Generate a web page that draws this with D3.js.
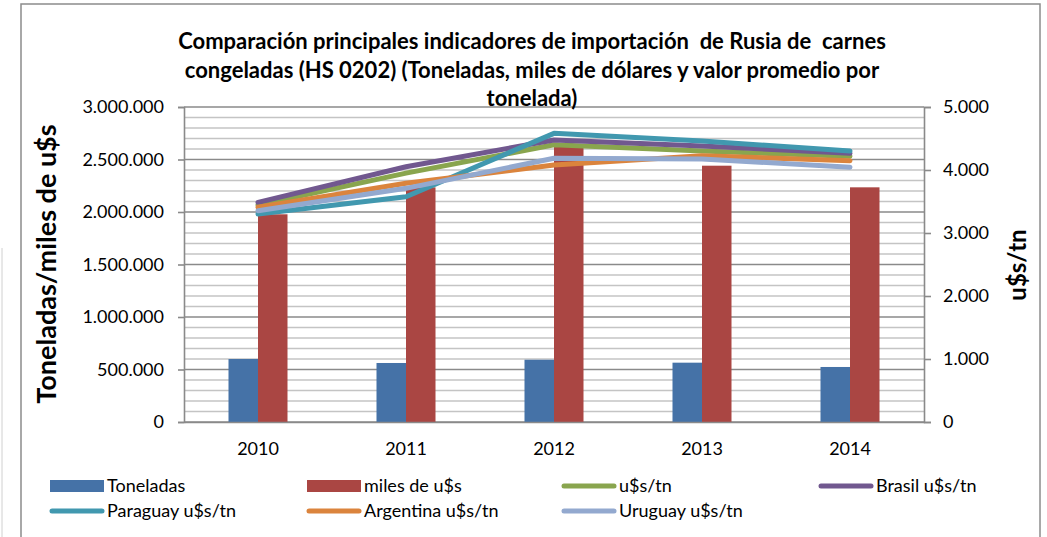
<!DOCTYPE html>
<html>
<head>
<meta charset="utf-8">
<script src="https://cdn.jsdelivr.net/npm/d3@7"></script>
<style>
  body { margin: 0; background: #fff; }
  text { font-family: Lato, "Liberation Sans", sans-serif; fill: #000; }
</style>
</head>
<body>
<div id="chart"></div>
<script>
// data
var years = ["2010", "2011", "2012", "2013", "2014"];
var toneladas = [600000, 562000, 593000, 565000, 524000];
var milesUSD = [1978000, 2235000, 2625000, 2441000, 2235000];
var usdTn = [3445, 3950, 4400, 4300, 4220];
var brasil = [3487, 4052, 4476, 4381, 4265];
var paraguay = [3302, 3576, 4582, 4460, 4302];
var argentina = [3408, 3789, 4079, 4227, 4148];
var uruguay = [3354, 3709, 4186, 4175, 4045];
var leftTicks = [0, 500000, 1000000, 1500000, 2000000, 2500000, 3000000];
var rightTicks = [0, 1000, 2000, 3000, 4000, 5000];

var barSeries = [
  {name: "Toneladas", values: toneladas, color: "#4572A7"},
  {name: "miles de u$s", values: milesUSD, color: "#AA4643"}
];
var lineSeries = [
  {name: "u$s/tn", values: usdTn, color: "#89A54E"},
  {name: "Brasil u$s/tn", values: brasil, color: "#71588F"},
  {name: "Paraguay u$s/tn", values: paraguay, color: "#4198AF"},
  {name: "Argentina u$s/tn", values: argentina, color: "#DB843D"},
  {name: "Uruguay u$s/tn", values: uruguay, color: "#93A9CF"}
];

var W = 1047, H = 537;
var plot = {left: 184, right: 924, top: 107, bottom: 422};

var svg = d3.select("#chart")
  .append("svg")
    .attr("width", W)
    .attr("height", H);

// outer frame
svg.append("line").attr("x1", 2).attr("x2", 2).attr("y1", 248).attr("y2", H)
  .attr("stroke", "#d0d0d0").attr("stroke-width", 1);
svg.append("rect")
  .attr("x", 21).attr("y", 4).attr("width", 1019).attr("height", 560)
  .attr("fill", "#fff").attr("stroke", "#8c8c8c").attr("stroke-width", 1.5);

var x = d3.scaleBand().domain(years).range([plot.left, plot.right]);
var xInner = d3.scaleBand().domain(barSeries.map(function(s) { return s.name; }))
  .range([44.5, 103.5]);
var yL = d3.scaleLinear().domain([0, 3000000]).range([plot.bottom, plot.top]);
var yR = d3.scaleLinear().domain([0, 5000]).range([plot.bottom, plot.top]);

var fmt = function(v) { return d3.format(",")(v).replace(/,/g, "."); };

// minor gridlines every 100.000
var minor = d3.range(0, 3000001, 100000).filter(function(v) { return v % 500000 !== 0; });
svg.append("g").selectAll("line").data(minor).enter().append("line")
  .attr("x1", plot.left).attr("x2", plot.right)
  .attr("y1", function(d) { return yL(d); }).attr("y2", function(d) { return yL(d); })
  .attr("stroke", "#c4c4c4").attr("stroke-width", 1.6);
// major gridlines
svg.append("g").selectAll("line").data(leftTicks).enter().append("line")
  .attr("x1", plot.left).attr("x2", plot.right)
  .attr("y1", function(d) { return yL(d); }).attr("y2", function(d) { return yL(d); })
  .attr("stroke", "#8a8a8a").attr("stroke-width", 1.6);

// bars
barSeries.forEach(function(s) {
  svg.append("g").selectAll("rect").data(s.values).enter().append("rect")
    .attr("x", function(d, i) { return x(years[i]) + xInner(s.name); })
    .attr("width", xInner.bandwidth())
    .attr("y", function(d) { return yL(d); })
    .attr("height", function(d) { return yL(0) - yL(d); })
    .attr("fill", s.color);
});

// left axis
var gl = svg.append("g").attr("transform", "translate(" + plot.left + ",0)")
  .call(d3.axisLeft(yL).tickValues(leftTicks).tickFormat(fmt).tickSize(6).tickPadding(14));
gl.select(".domain").attr("stroke", "#8a8a8a").attr("stroke-width", 1.6);
gl.selectAll(".tick line").attr("stroke", "#8a8a8a").attr("stroke-width", 1.6);
gl.selectAll("text").style("font-size", "18px").style("font-family", "Lato");

// right axis
var gr = svg.append("g").attr("transform", "translate(" + plot.right + ",0)")
  .call(d3.axisRight(yR).tickValues(rightTicks).tickFormat(fmt).tickSize(7).tickPadding(12));
gr.select(".domain").attr("stroke", "#8a8a8a").attr("stroke-width", 1.6);
gr.selectAll(".tick line").attr("stroke", "#8a8a8a").attr("stroke-width", 1.6);
gr.selectAll("text").style("font-size", "18px").style("font-family", "Lato");

// bottom axis
var gb = svg.append("g").attr("transform", "translate(0," + plot.bottom + ")")
  .call(d3.axisBottom(x).tickSize(0).tickPadding(20));
gb.select(".domain").attr("stroke", "#8a8a8a").attr("stroke-width", 1.6);
gb.selectAll("text").style("font-size", "18px").style("font-family", "Lato");

// lines
var line = d3.line()
  .x(function(d, i) { return x(years[i]) + x.bandwidth() / 2; })
  .y(function(d) { return yR(d); });
lineSeries.forEach(function(s) {
  svg.append("path").datum(s.values)
    .attr("d", line)
    .attr("fill", "none")
    .attr("stroke", s.color)
    .attr("stroke-width", 5)
    .attr("stroke-linecap", "round")
    .attr("stroke-linejoin", "round");
});

// title
var titleLines = [
  "Comparación principales indicadores de importación  de Rusia de  carnes",
  "congeladas (HS 0202) (Toneladas, miles de dólares y valor promedio por",
  "tonelada)"
];
svg.append("g").selectAll("text").data(titleLines).enter().append("text")
  .attr("x", 532)
  .attr("y", function(d, i) { return 49 + i * 28.5; })
  .attr("text-anchor", "middle")
  .style("font-size", "22px")
  .style("font-weight", "bold")
  .style("white-space", "pre")
  .attr("xml:space", "preserve")
  .text(function(d) { return d; });

// axis titles
svg.append("text")
  .attr("transform", "translate(56,264) rotate(-90)")
  .attr("text-anchor", "middle")
  .style("font-size", "27px").style("font-weight", "bold")
  .text("Toneladas/miles de u$s");
svg.append("text")
  .attr("transform", "translate(1026,265) rotate(-90)")
  .attr("text-anchor", "middle")
  .style("font-size", "24px").style("font-weight", "bold")
  .text("u$s/tn");

// legend
var legendItems = barSeries.map(function(s) { return {name: s.name, color: s.color, type: "bar"}; })
  .concat(lineSeries.map(function(s) { return {name: s.name, color: s.color, type: "line"}; }));
var colX = [50, 307, 562, 819];
var rowY = [486, 511];
var lg = svg.append("g").selectAll("g").data(legendItems).enter().append("g")
  .attr("transform", function(d, i) { return "translate(" + colX[i % 4] + "," + rowY[Math.floor(i / 4)] + ")"; });
lg.each(function(d) {
  var g = d3.select(this);
  if (d.type === "bar") {
    g.append("rect").attr("x", 0).attr("y", -6).attr("width", 54).attr("height", 12).attr("fill", d.color);
  } else {
    g.append("line").attr("x1", 2).attr("x2", 52).attr("y1", 0).attr("y2", 0)
      .attr("stroke", d.color).attr("stroke-width", 5).attr("stroke-linecap", "round");
  }
  g.append("text").attr("x", 57).attr("y", 6).style("font-size", "18px").text(d.name);
});
</script>
</body>
</html>
